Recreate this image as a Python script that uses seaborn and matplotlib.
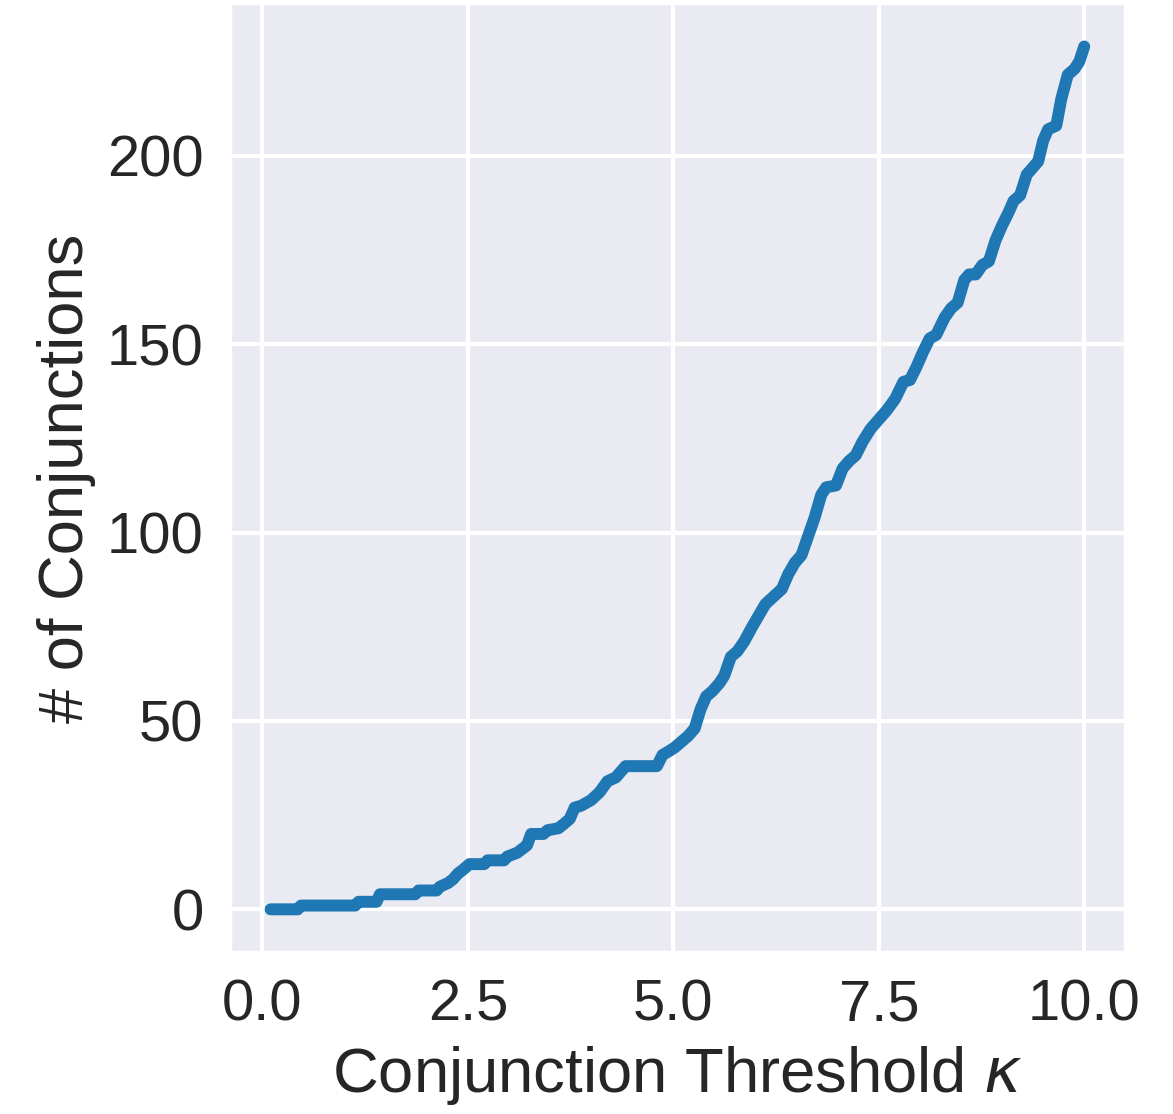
import pandas as pd
import matplotlib.pyplot as plt
import seaborn as sns

# Conjunction count vs threshold
kappa = [0.10, 0.43, 0.47, 1.13, 1.17, 1.39, 1.43, 1.86, 1.90, 2.12, 2.16, 2.26,
         2.32, 2.38, 2.44, 2.52, 2.70, 2.74, 2.94, 2.98, 3.10, 3.16, 3.22, 3.27,
         3.42, 3.47, 3.60, 3.66, 3.74, 3.80, 3.88, 4.00, 4.10, 4.20, 4.30, 4.42,
         4.80, 4.87, 4.95, 5.02, 5.10, 5.18, 5.26, 5.33, 5.40, 5.48, 5.56, 5.62,
         5.70, 5.78, 5.86, 5.96, 6.04, 6.12, 6.22, 6.32, 6.40, 6.48, 6.56, 6.64,
         6.72, 6.80, 6.86, 6.98, 7.06, 7.14, 7.22, 7.30, 7.40, 7.50, 7.60, 7.70,
         7.80, 7.88, 7.96, 8.04, 8.12, 8.20, 8.30, 8.38, 8.46, 8.54, 8.60, 8.68,
         8.76, 8.84, 8.92, 9.00, 9.08, 9.14, 9.22, 9.30, 9.38, 9.44, 9.50, 9.56,
         9.66, 9.72, 9.80, 9.88, 9.94, 10.00]
n_conj = [0, 0, 1, 1, 2, 2, 4, 4, 5, 5, 6, 7,
          8, 9.5, 10.5, 12, 12, 13, 13, 14, 15, 16, 17, 20,
          20, 21, 21.5, 22.5, 24, 27, 27.5, 29, 31, 34, 35, 38,
          38, 41, 42, 43, 44.5, 46, 48, 53, 56.5, 58, 60, 62,
          67, 68.5, 71, 75, 78, 81, 83, 85, 89, 92, 94, 99,
          104, 110, 112, 112.5, 117, 119, 120.5, 124, 127.5, 130, 132.5, 135.5,
          140, 140.5, 144, 148, 151.5, 152.5, 157, 159.5, 161, 167, 168.5, 168.5,
          171, 172, 177.5, 181.5, 185, 188, 189.5, 195, 197, 198.5, 204, 207,
          208, 215, 221.5, 223, 225, 229]

data = pd.DataFrame({'kappa': kappa, 'count': n_conj})

sns.set_theme(style="darkgrid", font_scale=1.9)
plt.rcParams['font.family'] = ['Liberation Sans', 'DejaVu Sans']
plt.rcParams['grid.linewidth'] = 1.5

fig, ax = plt.subplots(figsize=(5.865, 5.57))
fig.subplots_adjust(left=0.196, right=0.959, top=0.997, bottom=0.145)

sns.lineplot(data=data, x='kappa', y='count', color='#1f77b4', linewidth=4.3,
             sort=False, solid_capstyle='round', solid_joinstyle='round', ax=ax)
ax.set_xlabel(r"Conjunction Threshold $\kappa$")
ax.set_ylabel("# of Conjunctions")
ax.set_xticks([0.0, 2.5, 5.0, 7.5, 10.0])
ax.set_yticks([0, 50, 100, 150, 200])

fig.savefig("out.png", dpi=200)
